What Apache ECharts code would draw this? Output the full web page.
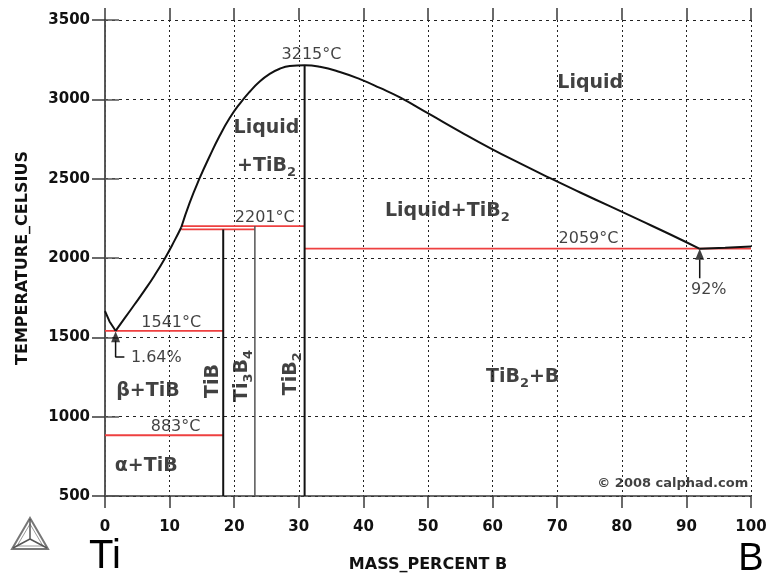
<!DOCTYPE html>
<html>
<head>
<meta charset="utf-8">
<title>Ti-B phase diagram</title>
<script src="https://cdn.jsdelivr.net/npm/echarts@6/dist/echarts.min.js"></script>
<style>
  html, body { margin: 0; padding: 0; background: #fff; }
  #chart { width: 771px; height: 578px; }
</style>
</head>
<body>
<div id="chart"></div>
<script>
// axis ticks (mass % B / temperature in °C)
const xTicks = [0, 10, 20, 30, 40, 50, 60, 70, 80, 90, 100]
const yTicks = [500, 1000, 1500, 2000, 2500, 3000, 3500]

// liquidus as [mass % B, °C]
const liquidusTi = [[0, 1665], [0.7, 1600], [1.64, 1541]]
const liquidusTiB = [
  [1.64, 1541], [3.02, 1619], [4.57, 1707], [6.12, 1796], [7.67, 1890],
  [9.22, 1994], [10.78, 2111], [11.81, 2194]
]
const liquidusTiB2 = [
  [11.81, 2194], [13.1, 2348], [14.65, 2503], [16.2, 2641], [17.75, 2770],
  [19.3, 2882], [20.85, 2972], [22.4, 3048], [23.95, 3112], [25.5, 3160],
  [27.05, 3193], [28.6, 3210], [30.9, 3215], [33.26, 3205], [36.36, 3172],
  [39.46, 3127], [42.56, 3072], [45.66, 3012], [50.31, 2905], [54.96, 2797],
  [59.61, 2693], [64.26, 2596], [68.91, 2503], [73.57, 2413], [78.22, 2325],
  [82.87, 2237], [87.52, 2148], [92, 2059]
]
const liquidusB = [[92, 2059], [96, 2065], [100, 2072]]

// invariant (red) lines: [x from, x to, °C]
const invariants = [
  [0, 18.3, 1541],
  [0, 18.3, 883],
  [11.8, 23.2, 2180],
  [11.8, 30.9, 2201],
  [30.9, 100, 2059]
]

// compounds: [mass % B, top °C]
const tibLine = [18.3, 2180]
const ti3b4Line = [23.2, 2201]
const tib2Line = [30.9, 3215]

// arrows pointing at the eutectic points
const eutecticArrow = [[3.0, 1376], [1.64, 1376], [1.64, 1480]]
const eutecticTip = [1.64, 1504]
const boronArrow = [[92.06, 1873], [92.06, 1990]]
const boronTip = [92.06, 2024]

// text annotations: [x, °C, text]
const tempLabels = [
  [10.26, 1594, '1541°C'],
  [7.94, 1373, '1.64%'],
  [10.93, 937, '883°C'],
  [24.73, 2256, '2201°C'],
  [31.97, 3281, '3215°C'],
  [74.85, 2120, '2059°C'],
  [93.46, 1802, '92%']
]
// phase fields: [x, °C, text, rotation]
const phaseLabels = [
  [75.12, 3104, 'Liquid', 0],
  [25.0, 2820, 'Liquid', 0],
  [25.0, 2580, '+TiB{s|2}', 0],
  [53.0, 2293, 'Liquid+TiB{s|2}', 0],
  [64.65, 1247, 'TiB{s|2}+B', 0],
  [6.64, 1162, 'β+TiB', 0],
  [6.39, 689, 'α+TiB', 0],
  [16.7, 1225, 'TiB', 90],
  [21.2, 1257, 'Ti{s|3}B{s|4}', 90],
  [28.8, 1270, 'TiB{s|2}', 90]
]
const copyright = [99.65, 576, '© 2008 calphad.com']

const chart = echarts.init(document.getElementById('chart'))

const tickFont = {
  color: '#111',
  fontSize: 15,
  fontWeight: 'bold',
  fontFamily: 'DejaVu Sans',
  formatter: function (v) { return String(v) }
}

const nameFont = {
  color: '#111',
  fontSize: 16,
  fontWeight: 'bold',
  fontFamily: 'DejaVu Sans'
}

function redLines() {
  const data = []
  invariants.forEach(function (r) {
    data.push([r[0], r[2]], [r[1], r[2]], '-')
  })
  return data
}

function vertical(name, p, color, width) {
  return {
    name: name,
    type: 'line',
    data: [[p[0], p[1]], [p[0], yTicks[0]]],
    symbol: 'none',
    lineStyle: { color: color, width: width },
    z: 4
  }
}

function curve(name, data, smooth) {
  return {
    name: name,
    type: 'line',
    data: data,
    symbol: 'none',
    smooth: smooth,
    lineStyle: { color: '#111', width: 2 },
    z: 5
  }
}

const subRich = {
  s: {
    fontSize: 13,
    fontWeight: 'bold',
    fontFamily: 'DejaVu Sans',
    color: '#111',
    lineHeight: 14,
    verticalAlign: 'bottom'
  }
}

chart.setOption({
  animation: false,
  grid: {
    left: 105,
    right: 20,
    top: 20,
    bottom: 82,
    outerBoundsMode: 'none'
  },
  xAxis: [{
    type: 'value',
    min: xTicks[0],
    max: xTicks[xTicks.length - 1],
    interval: 10,
    name: 'MASS_PERCENT B',
    nameLocation: 'middle',
    nameGap: 61,
    nameTextStyle: nameFont,
    axisLine: { lineStyle: { color: '#3a3a3a', width: 1.5 } },
    axisTick: { length: 12, lineStyle: { color: '#3a3a3a', width: 1.5 } },
    axisLabel: Object.assign({ margin: 24 }, tickFont),
    splitLine: { lineStyle: { color: '#222', width: 1, type: [2, 3] } }
  }, {
    type: 'value',
    position: 'top',
    min: xTicks[0],
    max: xTicks[xTicks.length - 1],
    interval: 10,
    axisLine: { show: false },
    axisTick: { length: 12, lineStyle: { color: '#3a3a3a', width: 1.5 } },
    axisLabel: { show: false },
    splitLine: { show: false }
  }],
  yAxis: [{
    type: 'value',
    min: yTicks[0],
    max: yTicks[yTicks.length - 1],
    interval: 500,
    name: 'TEMPERATURE_CELSIUS',
    nameLocation: 'middle',
    nameGap: 74,
    nameRotate: 90,
    nameTextStyle: nameFont,
    axisLine: { show: true, lineStyle: { color: '#3a3a3a', width: 1.5 } },
    axisTick: { show: true, length: 13, lineStyle: { color: '#3a3a3a', width: 1.5 } },
    axisLabel: Object.assign({ margin: 15 }, tickFont),
    splitLine: { lineStyle: { color: '#222', width: 1, type: [3, 4] } }
  }, {
    type: 'value',
    position: 'right',
    min: yTicks[0],
    max: yTicks[yTicks.length - 1],
    interval: 500,
    axisLine: { show: true, lineStyle: { color: '#555', width: 1.5 } },
    axisTick: { show: true, length: 14, lineStyle: { color: '#555', width: 1.5 } },
    axisLabel: { show: false },
    splitLine: { show: false }
  }],
  series: [
    {
      name: 'invariants',
      type: 'line',
      data: redLines(),
      symbol: 'none',
      connectNulls: false,
      lineStyle: { color: '#ee4040', width: 1.8 },
      z: 3
    },
    vertical('TiB', tibLine, '#111', 2),
    vertical('Ti3B4', ti3b4Line, '#555', 1.5),
    vertical('TiB2', tib2Line, '#111', 2),
    curve('liquidus Ti', liquidusTi, false),
    curve('liquidus TiB', liquidusTiB, true),
    curve('liquidus TiB2', liquidusTiB2, true),
    curve('liquidus B', liquidusB, false),
    {
      name: 'arrow 1',
      type: 'line',
      data: eutecticArrow,
      symbol: 'none',
      lineStyle: { color: '#111', width: 1.5 },
      z: 5
    },
    {
      name: 'arrow 2',
      type: 'line',
      data: boronArrow,
      symbol: 'none',
      lineStyle: { color: '#111', width: 1.5 },
      z: 5
    },
    {
      name: 'arrow heads',
      type: 'scatter',
      data: [eutecticTip, boronTip],
      symbol: 'triangle',
      symbolSize: [9, 11],
      itemStyle: { color: '#111' },
      z: 6
    },
    {
      name: 'temperatures',
      type: 'scatter',
      symbolSize: 1,
      itemStyle: { color: 'rgba(0,0,0,0)' },
      silent: true,
      z: 7,
      label: {
        show: true,
        position: 'inside',
        color: '#111',
        fontSize: 16,
        fontFamily: 'DejaVu Sans'
      },
      data: tempLabels.map(function (d) {
        return { value: [d[0], d[1]], label: { formatter: d[2] } }
      })
    },
    {
      name: 'phases',
      type: 'scatter',
      symbolSize: 1,
      itemStyle: { color: 'rgba(0,0,0,0)' },
      silent: true,
      z: 7,
      label: {
        show: true,
        position: 'inside',
        color: '#111',
        fontSize: 19,
        fontWeight: 'bold',
        fontFamily: 'DejaVu Sans',
        lineHeight: 26,
        rich: subRich
      },
      data: phaseLabels.map(function (d) {
        return { value: [d[0], d[1]], label: { formatter: d[2], rotate: d[3] } }
      })
    },
    {
      name: 'copyright',
      type: 'scatter',
      symbolSize: 1,
      itemStyle: { color: 'rgba(0,0,0,0)' },
      silent: true,
      z: 7,
      label: {
        show: true,
        position: 'left',
        distance: 0,
        color: '#111',
        fontSize: 13,
        fontWeight: 'bold',
        fontFamily: 'DejaVu Sans'
      },
      data: [{ value: [copyright[0], copyright[1]], label: { formatter: copyright[2] } }]
    }
  ],
  graphic: [
    {
      type: 'text',
      x: 105,
      y: 557,
      style: {
        text: 'Ti',
        fontSize: 40,
        fontFamily: 'Liberation Sans',
        fill: '#000',
        align: 'center',
        verticalAlign: 'middle'
      }
    },
    {
      type: 'text',
      x: 751,
      y: 560,
      style: {
        text: 'B',
        fontSize: 38,
        fontFamily: 'Liberation Sans',
        fill: '#000',
        align: 'center',
        verticalAlign: 'middle'
      }
    },
    {
      // Thermo-Calc logo
      type: 'group',
      children: [
        {
          type: 'polygon',
          shape: { points: [[30, 518], [12, 549], [48, 549]] },
          style: { fill: 'none', stroke: '#777', lineWidth: 2 }
        },
        {
          type: 'polygon',
          shape: { points: [[30, 524], [17, 546], [43, 546]] },
          style: { fill: 'none', stroke: '#999', lineWidth: 1 }
        },
        {
          type: 'polyline',
          shape: { points: [[30, 519], [30, 539], [13, 548]] },
          style: { fill: 'none', stroke: '#555', lineWidth: 1.5 }
        },
        {
          type: 'polyline',
          shape: { points: [[30, 539], [47, 548]] },
          style: { fill: 'none', stroke: '#555', lineWidth: 1.5 }
        }
      ]
    }
  ]
})
</script>
</body>
</html>
